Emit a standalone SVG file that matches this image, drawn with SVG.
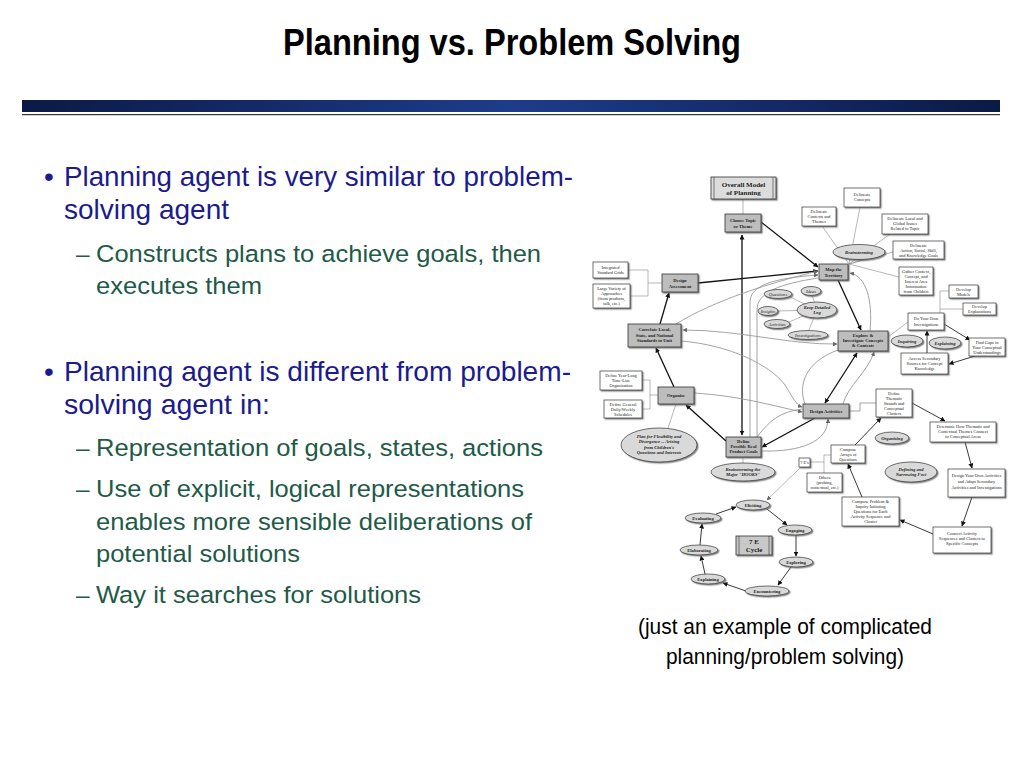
<svg xmlns="http://www.w3.org/2000/svg" width="1024" height="768" viewBox="0 0 1024 768">
<defs>
<linearGradient id="bar" x1="0" y1="0" x2="1" y2="0">
<stop offset="0" stop-color="#0b1a45"/><stop offset="0.5" stop-color="#1e3c8c"/><stop offset="1" stop-color="#0b1a45"/>
</linearGradient>
<filter id="sh" x="-20%" y="-20%" width="150%" height="150%"><feDropShadow dx="1.3" dy="1.3" stdDeviation="0.4" flood-color="#666" flood-opacity="0.8"/></filter>
<marker id="ab" viewBox="0 0 10 10" refX="9" refY="5" markerWidth="5" markerHeight="5" markerUnits="userSpaceOnUse" orient="auto-start-reverse"><path d="M0,0 L10,5 L0,10 z" fill="#111"/></marker>
<marker id="ag" viewBox="0 0 10 10" refX="9" refY="5" markerWidth="4.5" markerHeight="4.5" markerUnits="userSpaceOnUse" orient="auto-start-reverse"><path d="M0,0 L10,5 L0,10 z" fill="#666"/></marker>
<style>
.title{font-family:"Liberation Sans Narrow","Liberation Sans",Arial,sans-serif;font-weight:bold;font-size:36px;fill:#000}
.b1{font-family:"Liberation Sans Narrow","Liberation Sans",Arial,sans-serif;font-size:28px;fill:#1b1b8f}
.b2{font-family:"Liberation Sans Narrow","Liberation Sans",Arial,sans-serif;font-size:24.5px;fill:#1e5a48}
.cap{font-family:"Liberation Sans Narrow","Liberation Sans",Arial,sans-serif;font-size:22px;fill:#000;text-anchor:middle}
.gn{fill:#bdbdbd;stroke:#333;stroke-width:0.8;filter:url(#sh)}
.wn{fill:#fff;stroke:#333;stroke-width:0.7;filter:url(#sh)}
.el{fill:#d9d9d9;stroke:#333;stroke-width:0.7;filter:url(#sh)}
.tb{font-family:"Liberation Serif",serif;font-size:4.6px;font-weight:bold;text-anchor:middle;fill:#222}
.tr{font-family:"Liberation Serif",serif;font-size:4.4px;text-anchor:middle;fill:#222}
.ti{font-family:"Liberation Serif",serif;font-size:4.6px;font-weight:bold;font-style:italic;text-anchor:middle;fill:#222}
.big{font-family:"Liberation Serif",serif;font-size:7px;font-weight:bold;text-anchor:middle;fill:#222}
.k{fill:none;stroke:#111;stroke-width:1.3}
.km{fill:none;stroke:#222;stroke-width:0.9}
.g{fill:none;stroke:#999;stroke-width:0.9}
.t{fill:none;stroke:#888;stroke-width:0.6}
</style>
</defs>
<rect width="1024" height="768" fill="#fff"/>

<text class="title" x="512" y="55" text-anchor="middle" textLength="458" lengthAdjust="spacingAndGlyphs">Planning vs. Problem Solving</text>
<rect x="22" y="100" width="978" height="12" fill="url(#bar)"/>
<rect x="22" y="114" width="978" height="1.2" fill="#333"/>

<g id="bullets">
<text class="b1" x="44" y="186">•</text>
<text class="b1" x="64" y="186" textLength="509" lengthAdjust="spacingAndGlyphs">Planning agent is very similar to problem-</text>
<text class="b1" x="64" y="219" textLength="165" lengthAdjust="spacingAndGlyphs">solving agent</text>
<text class="b2" x="76" y="262">–</text>
<text class="b2" x="96" y="262" textLength="445" lengthAdjust="spacingAndGlyphs">Constructs plans to achieve goals, then</text>
<text class="b2" x="96" y="294" textLength="166" lengthAdjust="spacingAndGlyphs">executes them</text>
<text class="b1" x="44" y="381">•</text>
<text class="b1" x="64" y="381" textLength="507" lengthAdjust="spacingAndGlyphs">Planning agent is different from problem-</text>
<text class="b1" x="64" y="414" textLength="206" lengthAdjust="spacingAndGlyphs">solving agent in:</text>
<text class="b2" x="76" y="456">–</text>
<text class="b2" x="96" y="456" textLength="447" lengthAdjust="spacingAndGlyphs">Representation of goals, states, actions</text>
<text class="b2" x="76" y="497">–</text>
<text class="b2" x="96" y="497" textLength="428" lengthAdjust="spacingAndGlyphs">Use of explicit, logical representations</text>
<text class="b2" x="96" y="530" textLength="436" lengthAdjust="spacingAndGlyphs">enables more sensible deliberations of</text>
<text class="b2" x="96" y="562" textLength="204" lengthAdjust="spacingAndGlyphs">potential solutions</text>
<text class="b2" x="76" y="603">–</text>
<text class="b2" x="96" y="603" textLength="325" lengthAdjust="spacingAndGlyphs">Way it searches for solutions</text>
</g>

<g id="caption">
<text class="cap" x="785" y="634" textLength="294" lengthAdjust="spacingAndGlyphs">(just an example of complicated</text>
<text class="cap" x="785" y="664" textLength="238" lengthAdjust="spacingAndGlyphs">planning/problem solving)</text>
</g>

<g id="connectors">
<!-- thin gray plain -->
<path class="t" d="M743,199 V214"/>
<path class="t" d="M628,270 H648 M630,296 H648 M648,270 V296 M648,283 H662"/>
<path class="t" d="M642,380 H650 M642,409 H650 M650,380 V409 M650,395 H658"/>
<path class="t" d="M676,404 L668,428"/>
<path class="t" d="M743,457 V463"/>
<path class="t" d="M849,264 L860,207 M849,264 L822,226 M849,264 L890,234 M849,264 L866,259 M849,264 L893,252 M849,264 L899,277 M848,270 L849,264"/>
<path class="t" d="M817,310 L790,297 M817,310 L812,295 M817,310 L778,311 M817,310 L789,322 M817,310 L809,330"/>
<path class="t" d="M940,313 V291 H949 M940,309 H963"/>
<path class="t" d="M888,337 L908,322"/>
<path class="g" d="M849,411 H860 V403 H876"/>
<path class="t" d="M831,455 H824 V473 M810,462 H824"/>
<!-- thick black -->
<path class="k" d="M742,235 V435" marker-start="url(#ab)" marker-end="url(#ab)"/>
<path class="k" d="M761,222 L818,267" marker-end="url(#ab)"/>
<path class="k" d="M698,283 L818,271" marker-end="url(#ab)"/>
<path class="k" d="M660,324 L669,293" marker-end="url(#ab)"/>
<path class="k" d="M674,387 L656,348" marker-end="url(#ab)"/>
<path class="k" d="M726,441 L686,405" marker-end="url(#ab)"/>
<path class="k" d="M815,418 L762,447" marker-end="url(#ab)"/>
<path class="k" d="M857,353 L825,403" marker-start="url(#ab)" marker-end="url(#ab)"/>
<path class="k" d="M838,280 L861,330" marker-end="url(#ab)"/>
<!-- medium black -->
<path class="km" d="M944,324 L970,340" marker-end="url(#ab)"/>
<path class="km" d="M975,356 L949,364" marker-end="url(#ab)"/>
<path class="km" d="M927,353 V331" marker-end="url(#ab)"/>
<path class="km" d="M912,403 L945,421" marker-end="url(#ab)"/>
<path class="km" d="M965,442 L972,468" marker-end="url(#ab)"/>
<path class="km" d="M972,497 L962,526" marker-end="url(#ab)"/>
<path class="km" d="M933,534 L900,520" marker-end="url(#ab)"/>
<path class="km" d="M862,497 L848,464" marker-end="url(#ab)"/>
<path class="km" d="M855,445 L881,418" marker-end="url(#ab)"/>
<path class="t" d="M801,467 L767,500" marker-end="url(#ag)"/>
<path class="km" d="M767,509 L787,525" marker-end="url(#ab)"/>
<path class="km" d="M796,535 L796,556" marker-end="url(#ab)"/>
<path class="km" d="M791,567 L778,585" marker-end="url(#ab)"/>
<path class="km" d="M746,591 L723,583" marker-end="url(#ab)"/>
<path class="km" d="M705,574 L701,556" marker-end="url(#ab)"/>
<path class="km" d="M700,545 L702,524" marker-end="url(#ab)"/>
<path class="km" d="M716,514 L736,507" marker-end="url(#ab)"/>
<!-- gray curves -->
<path class="g" d="M750,437 V302 C750,285 775,278 818,275" marker-end="url(#ag)"/>
<path class="g" d="M757,437 V310 C757,292 780,284 818,278"/>
<path class="g" d="M676,324 C715,300 770,283 818,271" marker-end="url(#ag)"/>
<path class="g" d="M870,331 C873,300 866,276 850,273" marker-end="url(#ag)"/>
<path class="g" d="M683,330 C740,330 790,345 837,344" marker-start="url(#ag)" marker-end="url(#ag)"/>
<path class="g" d="M681,341 C730,345 770,365 785,385 C792,396 796,405 802,407" marker-end="url(#ag)"/>
<path class="g" d="M694,393 C740,396 770,405 802,412" marker-end="url(#ag)"/>
<path class="g" d="M757,437 C770,420 780,412 802,409"/>
<path class="g" d="M762,451 C800,452 828,442 828,419" marker-end="url(#ag)"/>
<path class="g" d="M805,404 C798,385 805,362 838,350"/>
<path class="g" d="M843,404 C848,385 868,372 874,352" marker-end="url(#ag)"/>
</g>

<g id="n-overall"><rect class="gn" x="711" y="177" width="65" height="22" fill="#ddd" style="fill:#dcdcdc"/><path d="M714,177 V199 M773,177 V199" stroke="#333" stroke-width="0.6"/><text class="big" x="743.5" y="186.5">Overall Model</text><text class="big" x="743.5" y="195">of Planning</text></g>
<g id="n-choose"><rect class="gn" x="725" y="214" width="36" height="18"/><text class="tb" x="743" y="222">Choose Topic</text><text class="tb" x="743" y="227.5">or Theme</text></g>
<g id="n-grids"><rect class="wn" x="593" y="262" width="35" height="16"/><text class="tr" x="610.5" y="269">Integrated</text><text class="tr" x="610.5" y="274">Standard Grids</text></g>
<g id="n-variety"><rect class="wn" x="593" y="284" width="37" height="24"/><text class="tr" x="611.5" y="290">Large Variety of</text><text class="tr" x="611.5" y="295">Approaches</text><text class="tr" x="611.5" y="300">(from products,</text><text class="tr" x="611.5" y="305">talk, etc.)</text></g>
<g id="n-assess"><rect class="gn" x="662" y="274" width="36" height="18"/><text class="tb" x="680" y="282">Design</text><text class="tb" x="680" y="287.5">Assessment</text></g>
<g id="n-map"><rect class="gn" x="819" y="264" width="29" height="16"/><text class="tb" x="833.5" y="271">Map the</text><text class="tb" x="833.5" y="276.5">Territory</text></g>
<g id="n-dconcepts"><rect class="wn" x="844" y="188" width="36" height="19"/><text class="tr" x="862" y="196">Delineate</text><text class="tr" x="862" y="201">Concepts</text></g>
<g id="n-dcontexts"><rect class="wn" x="802" y="207" width="34" height="19"/><text class="tr" x="819" y="213">Delineate</text><text class="tr" x="819" y="218">Contexts and</text><text class="tr" x="819" y="223">Themes</text></g>
<g id="n-dlocal"><rect class="wn" x="882" y="214" width="46" height="20"/><text class="tr" x="905" y="220">Delineate Local and</text><text class="tr" x="905" y="225">Global Issues</text><text class="tr" x="905" y="230">Related to Topic</text></g>
<g id="n-brain"><ellipse class="el" cx="859" cy="252" rx="26" ry="7.5"/><text class="ti" x="859" y="253.6">Brainstorming</text></g>
<g id="n-daction"><rect class="wn" x="893" y="241" width="51" height="18"/><text class="tr" x="918.5" y="247">Delineate</text><text class="tr" x="918.5" y="252">Action, Social, Skill,</text><text class="tr" x="918.5" y="257">and Knowledge Goals</text></g>
<g id="n-gather"><rect class="wn" x="899" y="267" width="34" height="28"/><text class="tr" x="916" y="273">Gather Context,</text><text class="tr" x="916" y="278">Concept, and</text><text class="tr" x="916" y="283">Interest Area</text><text class="tr" x="916" y="288">Information</text><text class="tr" x="916" y="293">from Children</text></g>
<g id="n-models"><rect class="wn" x="949" y="285" width="29" height="13"/><text class="tr" x="963.5" y="290.5">Develop</text><text class="tr" x="963.5" y="295.5">Models</text></g>
<g id="n-expl"><rect class="wn" x="963" y="303" width="33" height="12"/><text class="tr" x="979.5" y="308">Develop</text><text class="tr" x="979.5" y="313">Explanations</text></g>
<g id="n-doyour"><rect class="wn" x="908" y="313" width="36" height="17"/><text class="tr" x="926" y="320">Do Your Own</text><text class="tr" x="926" y="325.5">Investigations</text></g>
<g id="n-explore"><rect class="gn" x="838" y="331" width="50" height="20"/><text class="tb" x="863" y="337">Explore &amp;</text><text class="tb" x="863" y="342">Investigate Concepts</text><text class="tb" x="863" y="347">&amp; Contexts</text></g>
<g id="n-inquiring"><ellipse class="el" cx="907" cy="341" rx="16" ry="6"/><text class="ti" x="907" y="342.6">Inquiring</text></g>
<g id="n-explaining"><ellipse class="el" cx="945" cy="343" rx="16" ry="6"/><text class="ti" x="945" y="344.6">Explaining</text></g>
<g id="n-gaps"><rect class="wn" x="969" y="338" width="36" height="18"/><text class="tr" x="987" y="344">Find Gaps in</text><text class="tr" x="987" y="349">Your Conceptual</text><text class="tr" x="987" y="354">Understandings</text></g>
<g id="n-access"><rect class="wn" x="901" y="353" width="47" height="21"/><text class="tr" x="924.5" y="360">Access Secondary</text><text class="tr" x="924.5" y="365">Sources for Concept</text><text class="tr" x="924.5" y="370">Knowledge</text></g>
<g id="n-log"><ellipse class="el" cx="817" cy="310" rx="20" ry="8"/><text class="ti" x="817" y="309">Keep Detailed</text><text class="ti" x="817" y="314">Log</text></g>
<g id="n-questions"><ellipse class="el" cx="778" cy="294" rx="14" ry="4.5"/><text class="ti" x="778" y="295.6" style="font-weight:normal">Questions</text></g>
<g id="n-ideas"><ellipse class="el" cx="811" cy="291" rx="10" ry="4.5"/><text class="ti" x="811" y="292.6" style="font-weight:normal">Ideas</text></g>
<g id="n-insights"><ellipse class="el" cx="768" cy="311" rx="10" ry="4.5"/><text class="ti" x="768" y="312.6" style="font-weight:normal">Insights</text></g>
<g id="n-activities"><ellipse class="el" cx="777" cy="324" rx="13" ry="4.5"/><text class="ti" x="777" y="325.6" style="font-weight:normal">Activities</text></g>
<g id="n-investigations"><ellipse class="el" cx="808" cy="335" rx="20" ry="4.5"/><text class="ti" x="808" y="336.6" style="font-weight:normal">Investigations</text></g>
<g id="n-correlate"><rect class="gn" x="628" y="324" width="53" height="23"/><text class="tb" x="654.5" y="331">Correlate Local,</text><text class="tb" x="654.5" y="336.5">State, and National</text><text class="tb" x="654.5" y="342">Standards to Unit</text></g>
<g id="n-yearlong"><rect class="wn" x="600" y="371" width="42" height="19"/><text class="tr" x="621" y="377">Define Year-Long</text><text class="tr" x="621" y="382">Time-Line</text><text class="tr" x="621" y="387">Organization</text></g>
<g id="n-daily"><rect class="wn" x="604" y="400" width="38" height="18"/><text class="tr" x="623" y="406">Define General</text><text class="tr" x="623" y="411">Daily/Weekly</text><text class="tr" x="623" y="416">Schedules</text></g>
<g id="n-organize"><rect class="gn" x="658" y="387" width="36" height="17"/><text class="tb" x="676" y="397">Organize</text></g>
<g id="n-plan"><ellipse class="el" cx="659" cy="445" rx="38" ry="17"/><text class="ti" x="659" y="437.5">Plan for Flexibility and</text><text class="ti" x="659" y="443">Divergence -- Arising</text><text class="ti" x="659" y="448.5">from Children's</text><text class="ti" x="659" y="454">Questions and Interests</text></g>
<g id="n-define"><rect class="gn" x="726" y="437" width="35" height="20"/><text class="tb" x="743.5" y="443">Define</text><text class="tb" x="743.5" y="448">Possible Real</text><text class="tb" x="743.5" y="453">Product Goals</text></g>
<g id="n-hooks"><ellipse class="el" cx="743" cy="472" rx="32" ry="9"/><text class="ti" x="743" y="470.5">Brainstorming the</text><text class="ti" x="743" y="476">Major "HOOKS"</text></g>
<g id="n-design"><rect class="gn" x="803" y="404" width="46" height="14"/><text class="tb" x="826" y="412.5">Design Activities</text></g>
<g id="n-thematic"><rect class="wn" x="876" y="389" width="36" height="28"/><text class="tr" x="894" y="395">Define</text><text class="tr" x="894" y="400">Thematic</text><text class="tr" x="894" y="405">Strands and</text><text class="tr" x="894" y="410">Conceptual</text><text class="tr" x="894" y="415">Clusters</text></g>
<g id="n-organizing"><ellipse class="el" cx="892" cy="438" rx="17" ry="6"/><text class="ti" x="892" y="439.6">Organizing</text></g>
<g id="n-determine"><rect class="wn" x="930" y="422" width="66" height="20"/><text class="tr" x="963" y="428">Determine How Thematic and</text><text class="tr" x="963" y="433">Contextual Themes Connect</text><text class="tr" x="963" y="438">to Conceptual Areas</text></g>
<g id="n-arrays"><rect class="wn" x="831" y="445" width="34" height="18"/><text class="tr" x="848" y="451">Compose</text><text class="tr" x="848" y="456">Arrays of</text><text class="tr" x="848" y="461">Questions</text></g>
<g id="n-7es"><rect class="wn" x="799" y="458" width="11" height="9"/><text class="tr" x="804.5" y="464">7 E's</text></g>
<g id="n-others"><rect class="wn" x="807" y="473" width="35" height="19"/><text class="tr" x="824.5" y="479">Others</text><text class="tr" x="824.5" y="484">(probing,</text><text class="tr" x="824.5" y="489">contextual, etc.)</text></g>
<g id="n-foci"><ellipse class="el" cx="911" cy="472" rx="26" ry="10"/><text class="ti" x="911" y="470.5">Defining and</text><text class="ti" x="911" y="476">Narrowing Foci</text></g>
<g id="n-yourown"><rect class="wn" x="948" y="469" width="57" height="28"/><text class="tr" x="976.5" y="477">Design Your Own Activities</text><text class="tr" x="976.5" y="483">and Adapt Secondary</text><text class="tr" x="976.5" y="489">Activities and Investigations</text></g>
<g id="n-problem"><rect class="wn" x="842" y="497" width="57" height="29"/><text class="tr" x="870.5" y="503">Compose Problem &amp;</text><text class="tr" x="870.5" y="508">Inquiry Initiating</text><text class="tr" x="870.5" y="513">Questions for Each</text><text class="tr" x="870.5" y="518">Activity Sequence and</text><text class="tr" x="870.5" y="523">Cluster</text></g>
<g id="n-connect"><rect class="wn" x="933" y="527" width="58" height="26"/><text class="tr" x="962" y="535">Connect Activity</text><text class="tr" x="962" y="540">Sequences and Clusters to</text><text class="tr" x="962" y="545">Specific Concepts</text></g>
<g id="n-eliciting"><ellipse class="el" cx="753" cy="505" rx="17" ry="5"/><text class="tb" x="753" y="506.6">Eliciting</text></g>
<g id="n-engaging"><ellipse class="el" cx="795" cy="530" rx="17" ry="5"/><text class="tb" x="795" y="531.6">Engaging</text></g>
<g id="n-exploring"><ellipse class="el" cx="796" cy="562" rx="17" ry="5"/><text class="tb" x="796" y="563.6">Exploring</text></g>
<g id="n-encountering"><ellipse class="el" cx="767" cy="591" rx="22" ry="5"/><text class="tb" x="767" y="592.6">Encountering</text></g>
<g id="n-explaining7"><ellipse class="el" cx="708" cy="579" rx="17" ry="5"/><text class="tb" x="708" y="580.6">Explaining</text></g>
<g id="n-elaborating"><ellipse class="el" cx="699" cy="550" rx="19" ry="5"/><text class="tb" x="699" y="551.6">Elaborating</text></g>
<g id="n-evaluating"><ellipse class="el" cx="703" cy="518" rx="18" ry="5"/><text class="tb" x="703" y="519.6">Evaluating</text></g>
<g id="n-cycle"><rect class="gn" x="736" y="536" width="36" height="19" style="fill:#c8c8c8"/><path d="M739,536 V555 M769,536 V555" stroke="#333" stroke-width="0.6"/><text class="big" x="754" y="544">7 E</text><text class="big" x="754" y="552">Cycle</text></g>
</svg>
